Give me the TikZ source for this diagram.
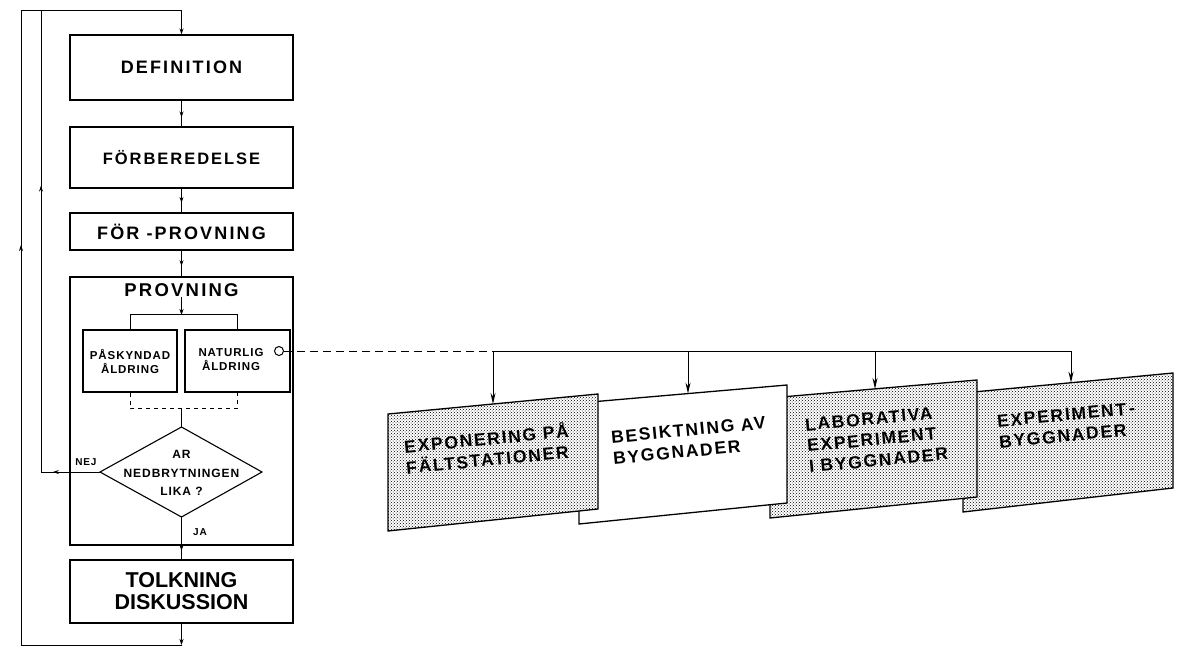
\documentclass[tikz,border=0pt]{standalone}
\usepackage{fontspec}
\setmainfont{Liberation Sans}
\newfontfamily\lsA[LetterSpace=12]{Liberation Sans}
\newfontfamily\lsB[LetterSpace=8]{Liberation Sans}
\newfontfamily\lsC[LetterSpace=10]{Liberation Sans}
\usetikzlibrary{arrows.meta,patterns,decorations.markings}
\tikzset{
  fbox/.style={draw, line width=1.3pt, inner sep=0pt, align=center},
  plain/.style={inner sep=0pt, align=center},
  conn/.style={line width=1pt},
  tip/.style={conn, -{Stealth[length=6pt,width=4pt]}},
  bigtip/.style={conn, -{Stealth[length=11pt,width=5pt]}},
  midtip/.style={conn, postaction={decorate}, decoration={markings, mark=at position #1 with {\arrow{Stealth[length=6pt,width=4pt]}}}},
  shadebox/.style={line width=1.3pt, fill=white, postaction={pattern=crosshatch dots, pattern color=black}},
  whitebox/.style={line width=1.3pt, fill=white},
  tilttext/.style={inner sep=0pt, anchor=west, rotate=5.5, align=left, font=\lsC\bfseries\fontsize{17.5}{21}\selectfont},
  bigfont/.style={font=\lsA\bfseries\fontsize{#1}{#1}\selectfont},
  smallfont/.style={font=\lsB\bfseries\fontsize{#1}{14}\selectfont}
}
\begin{document}
\begin{tikzpicture}[x=1pt,y=-1pt]
\useasboundingbox (0,0) rectangle (1187,648);
% main column
\node[fbox, bigfont=18, minimum width=223pt, minimum height=65pt] (def) at (181.5,67.5) {DEFINITION};
\node[fbox, bigfont=16.5, minimum width=223pt, minimum height=61pt] (forb) at (181.5,157.5) {FÖRBEREDELSE};
\node[fbox, bigfont=18, minimum width=223pt, minimum height=37pt] (forp) at (181.5,231.5) {FÖR -PROVNING};
\node[fbox, minimum width=223pt, minimum height=268pt] (prov) at (181.5,411) {};
\node[plain, bigfont=18.5] (provt) at (181.5,290) {PROVNING};
\node[fbox, font=\bfseries\fontsize{21.5}{22}\selectfont, minimum width=223pt, minimum height=63pt] (tolk) at (181.5,591.5) {TOLKNING\\DISKUSSION};
% inner boxes
\node[fbox, line width=1.1pt, smallfont=11.5, minimum width=94pt, minimum height=62pt] (pask) at (130,361) {PÅSKYNDAD\\ÅLDRING};
\node[fbox, line width=1.1pt, minimum width=105pt, minimum height=62pt] (natur) at (237.5,361) {};
\node[plain, smallfont=11.5] (naturt) at (231,360) {NATURLIG\\ÅLDRING};
\node[circle, draw, line width=1pt, minimum size=9pt, inner sep=0pt] (circ) at (279,351) {};
% diamond
\coordinate (dT) at (181.5,427);
\coordinate (dL) at (100,472);
\coordinate (dR) at (262,472);
\coordinate (dB) at (181.5,517);
\draw[line width=1.1pt] (dT) -- (dR) -- (dB) -- (dL) -- cycle;
\node[plain, font=\lsB\bfseries\fontsize{12}{18.5}\selectfont] (q) at (181.5,473) {AR\\NEDBRYTNINGEN\\LIKA ?};
\node[plain, smallfont=10] (nej) at (86,462) {NEJ};
\node[plain, smallfont=10] (ja) at (200,532) {JA};
% connectors main column
\coordinate (tl) at (21,10);
\coordinate (tr) at (181.5,10);
\coordinate (il) at (41,10);
\coordinate (in) at (41,472);
\coordinate (bl) at (21,645);
\coordinate (br) at (181.5,645);
\coordinate (sc) at (181.5,315);
\coordinate (jn) at (181.5,408);
\draw[tip] (tr) -- (def.north);
\draw[midtip=0.65] (def.south) -- (forb.north);
\draw[midtip=0.6] (forb.south) -- (forp.north);
\draw[midtip=0.6] (forp.south) -- (prov.north);
\draw[tip] (provt.south) -- (sc);
\draw[conn] (pask.north) -- ++(0,-15) -| (natur.north);
\draw[conn, dash pattern=on 4pt off 4pt] (pask.south) -- ++(0,16) -| (natur.south);
\draw[conn] (jn) -- (dT);
\draw[midtip=0.8] (dB) -- (tolk.north);
\draw[tip] (tolk.south) -- (br);
\draw[conn] (br) -- (bl);
\draw[midtip=0.63] (bl) -- (tl);
\draw[conn] (tl) -- (tr);
\draw[midtip=0.8] (dL) -- (in);
\draw[midtip=0.62] (in) -- (il);
% right side boxes
\coordinate (a1) at (388,414); \coordinate (a2) at (598,394); \coordinate (a3) at (598,509); \coordinate (a4) at (388,531);
\coordinate (c1) at (579,403); \coordinate (c2) at (787,385); \coordinate (c3) at (787,503); \coordinate (c4) at (579,524);
\coordinate (e1) at (770,398); \coordinate (e2) at (977,380); \coordinate (e3) at (977,497); \coordinate (e4) at (770,518);
\coordinate (g1) at (963,393); \coordinate (g2) at (1173,373); \coordinate (g3) at (1173,488); \coordinate (g4) at (963,512);
\draw[shadebox] (g1) -- (g2) -- (g3) -- (g4) -- cycle;
\draw[shadebox] (e1) -- (e2) -- (e3) -- (e4) -- cycle;
\draw[whitebox] (c1) -- (c2) -- (c3) -- (c4) -- cycle;
\draw[shadebox] (a1) -- (a2) -- (a3) -- (a4) -- cycle;
\node[tilttext] (t1) at (405,456) {EXPONERING PÅ\\FÄLTSTATIONER};
\node[tilttext] (t2) at (612,448) {BESIKTNING AV\\BYGGNADER};
\node[tilttext] (t3) at (807,446) {LABORATIVA\\EXPERIMENT\\I BYGGNADER};
\node[tilttext] (t4) at (998,432) {EXPERIMENT\kern3pt-\\BYGGNADER};
% bus
\coordinate (j1) at (493,351);
\coordinate (j2) at (688,351);
\coordinate (j3) at (875,351);
\coordinate (j4) at (1071,351);
\coordinate (b1t) at (493,404);
\coordinate (b2t) at (688,393.6);
\coordinate (b3t) at (875,388.9);
\coordinate (b4t) at (1071,382.7);
\draw[conn, dash pattern=on 8pt off 5pt] (circ.east) -- (j1);
\draw[conn] (j1) -- (j4);
\draw[bigtip] (j1) -- (b1t);
\draw[bigtip] (j2) -- (b2t);
\draw[bigtip] (j3) -- (b3t);
\draw[bigtip] (j4) -- (b4t);
\end{tikzpicture}
\end{document}
